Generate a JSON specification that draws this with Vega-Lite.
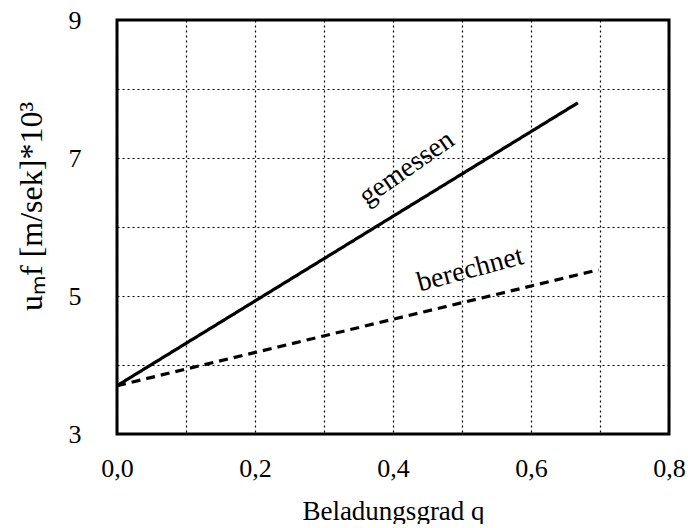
{
  "$schema": "https://vega.github.io/schema/vega-lite/v6.json",
  "width": 552,
  "height": 414,
  "padding": {"left": 15, "top": 7, "right": 5, "bottom": 0},
  "background": "white",
  "config": {
    "font": "Liberation Serif",
    "view": {"stroke": "black", "strokeWidth": 3},
    "text": {"font": "Liberation Serif"},
    "axis": {
      "labelFont": "Liberation Serif",
      "titleFont": "Liberation Serif",
      "labelFontSize": 26,
      "titleFontSize": 27,
      "labelColor": "black",
      "titleColor": "black",
      "titleFontWeight": "normal",
      "labelFlush": false,
      "ticks": false,
      "domain": false,
      "gridColor": "black",
      "gridDash": [2, 3],
      "gridWidth": 1.2,
      "gridOpacity": 1
    }
  },
  "datasets": {
    "lines": [
      {"q": 0.0, "u": 3.7, "serie": "gemessen"},
      {"q": 0.668, "u": 7.8, "serie": "gemessen"},
      {"q": 0.0, "u": 3.7, "serie": "berechnet"},
      {"q": 0.698, "u": 5.38, "serie": "berechnet"}
    ],
    "labels": [
      {"q": 0.42, "u": 6.85, "text": "gemessen", "angle": -35},
      {"q": 0.512, "u": 5.38, "text": "berechnet", "angle": -15}
    ]
  },
  "layer": [
    {
      "data": {"name": "lines"},
      "mark": {"type": "line", "color": "black", "strokeWidth": 3.2},
      "encoding": {
        "x": {
          "field": "q", "type": "quantitative",
          "scale": {"domain": [0, 0.8], "nice": false},
          "axis": {
            "values": [0, 0.1, 0.2, 0.3, 0.4, 0.5, 0.6, 0.7, 0.8],
            "labelExpr": "round(datum.value*10)%2==0 ? replace(format(datum.value,'.1f'),'.',',') : ''",
            "labelFont": "Liberation Serif",
            "labelPadding": 21,
            "title": "Beladungsgrad q",
            "titlePadding": 17
          }
        },
        "y": {
          "field": "u", "type": "quantitative",
          "scale": {"domain": [3, 9], "nice": false, "zero": false},
          "axis": {
            "values": [3, 4, 5, 6, 7, 8, 9],
            "labelExpr": "datum.value%2==1 ? format(datum.value,'d') : ''",
            "labelFont": "Liberation Serif",
            "labelPadding": 36,
            "title": "uₘf [m/sek]*10³",
            "titleFontSize": 32,
            "titlePadding": 20,
            "titleY": 186
          }
        },
        "detail": {"field": "serie"},
        "strokeDash": {
          "field": "serie", "type": "nominal",
          "scale": {"domain": ["gemessen", "berechnet"], "range": [[1, 0], [9, 6]]},
          "legend": null
        }
      }
    },
    {
      "data": {"name": "labels"},
      "mark": {"type": "text", "fontSize": 28, "font": "Liberation Serif", "color": "black"},
      "encoding": {
        "x": {"field": "q", "type": "quantitative"},
        "y": {"field": "u", "type": "quantitative"},
        "text": {"field": "text"},
        "angle": {"field": "angle", "type": "quantitative", "scale": null}
      }
    }
  ]
}
